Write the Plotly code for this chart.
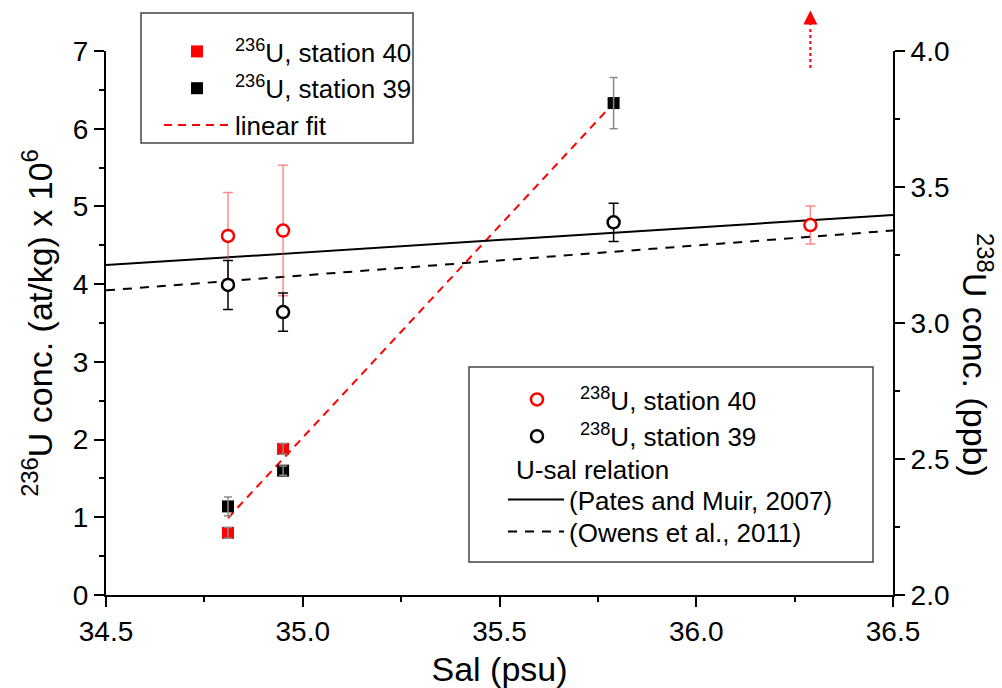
import plotly.graph_objects as go

FONT = "Arial, 'Liberation Sans', sans-serif"

# ---- 236U concentrations (left axis, at/kg x 10^6) ----
sal_u236_st40 = [34.81, 34.95]
u236_st40 = [0.80, 1.88]
u236_st40_err = [0.07, 0.07]

sal_u236_st39 = [34.81, 34.95, 35.79]
u236_st39 = [1.14, 1.60, 6.33]
u236_st39_err = [0.12, 0.06, 0.33]

# station 40 sample lying above the axis range: marked with an arrow
sal_offscale = 36.29
offscale_arrow_from = 6.78
offscale_arrow_head_base = 7.30
offscale_arrow_tip = 7.52

# linear fit of 236U vs salinity
fit_sal = [34.81, 35.79]
fit_u236 = [0.99, 6.33]

# ---- 238U concentrations (right axis, ppb) ----
sal_u238_st40 = [34.81, 34.95, 36.29]
u238_st40 = [3.32, 3.34, 3.36]
u238_st40_err = [0.16, 0.24, 0.07]

sal_u238_st39 = [34.81, 34.95, 35.79]
u238_st39 = [3.14, 3.04, 3.37]
u238_st39_err = [0.09, 0.07, 0.07]

# U-salinity relations
rel_sal = [34.5, 36.5]
pates_muir = [3.213, 3.397]
owens = [3.12, 3.34]

X_RANGE = [34.5, 36.5]
Y_RANGE = [0, 7]
Y2_RANGE = [2.0, 4.0]

W, H = 1002, 688
ML, MR, MT, MB = 106, 109, 51, 93
PW, PH = W - ML - MR, H - MT - MB


def px_x(p):
    return (p - ML) / PW


def px_y(p):
    return (H - MB - p) / PH


fig = go.Figure()

# 236U linear fit
fig.add_trace(go.Scatter(
    x=fit_sal, y=fit_u236, mode="lines", name="linear fit",
    line=dict(color="red", width=2, dash="8px,6px"),
    legend="legend", legendrank=3,
))

# 236U squares
fig.add_trace(go.Scatter(
    x=sal_u236_st40, y=u236_st40, mode="markers",
    name="<sup>236</sup>U, station 40",
    marker=dict(symbol="square", size=12, color="red", line=dict(width=0)),
    legend="legend", legendrank=1,
))
fig.add_trace(go.Scatter(
    x=sal_u236_st39, y=u236_st39, mode="markers",
    name="<sup>236</sup>U, station 39",
    marker=dict(symbol="square", size=12, color="black", line=dict(width=0)),
    legend="legend", legendrank=2,
))
# error bars drawn over the squares
for xs, ys, es in [(sal_u236_st40, u236_st40, u236_st40_err),
                   (sal_u236_st39, u236_st39, u236_st39_err)]:
    fig.add_trace(go.Scatter(
        x=xs, y=ys, mode="markers", showlegend=False, hoverinfo="skip",
        marker=dict(size=12, opacity=0),
        error_y=dict(type="data", array=es, visible=True,
                     color="#8a8a8a", thickness=1.5, width=4),
    ))

# U-salinity relations (right axis)
fig.add_trace(go.Scatter(
    x=rel_sal, y=pates_muir, yaxis="y2", mode="lines",
    name="(Pates and Muir, 2007)",
    line=dict(color="black", width=2),
    legend="legend3",
))
fig.add_trace(go.Scatter(
    x=rel_sal, y=owens, yaxis="y2", mode="lines",
    name="(Owens et al., 2011)",
    line=dict(color="black", width=2, dash="9px,8px"),
    legend="legend4",
))

# 238U circles
fig.add_trace(go.Scatter(
    x=sal_u238_st40, y=u238_st40, yaxis="y2", mode="markers",
    name="<sup>238</sup>U, station 40",
    marker=dict(symbol="circle", size=12, color="white",
                line=dict(color="red", width=2.5)),
    error_y=dict(type="data", array=u238_st40_err, visible=True,
                 color="rgba(255,60,60,0.6)", thickness=1.5, width=5),
    legend="legend2", legendrank=1,
))
fig.add_trace(go.Scatter(
    x=sal_u238_st39, y=u238_st39, yaxis="y2", mode="markers",
    name="<sup>238</sup>U, station 39",
    marker=dict(symbol="circle", size=12, color="white",
                line=dict(color="black", width=2.5)),
    error_y=dict(type="data", array=u238_st39_err, visible=True,
                 color="black", thickness=1.5, width=5),
    legend="legend2", legendrank=2,
))

axis_common = dict(
    showline=True, linecolor="black", linewidth=2,
    ticks="outside", ticklen=10, tickwidth=2, tickcolor="black",
    showgrid=False, zeroline=False,
    tickfont=dict(size=28, family=FONT, color="black"),
)

span = Y_RANGE[1] - Y_RANGE[0]
legend_common = dict(
    xanchor="left", yanchor="top", bgcolor="rgba(0,0,0,0)", borderwidth=0,
    font=dict(size=26, family=FONT, color="black"), tracegroupgap=0,
)

fig.update_layout(
    width=W, height=H,
    margin=dict(l=ML, r=MR, t=MT, b=MB, autoexpand=False),
    paper_bgcolor="white", plot_bgcolor="white",
    font=dict(family=FONT, size=26, color="black"),
    xaxis=dict(
        range=X_RANGE, tick0=34.5, dtick=0.5, tickformat=".1f",
        minor=dict(dtick=0.25, ticks="outside", ticklen=5, tickwidth=2, tickcolor="black"),
        title=dict(text="Sal (psu)", font=dict(size=34, family=FONT), standoff=12),
        **axis_common,
    ),
    yaxis=dict(
        range=Y_RANGE, tick0=0, dtick=1,
        minor=dict(dtick=0.5, ticks="outside", ticklen=5, tickwidth=2, tickcolor="black"),
        title=dict(text="<sup>236</sup>U conc. (at/kg) x 10<sup>6</sup>",
                   font=dict(size=34, family=FONT), standoff=10),
        **axis_common,
    ),
    yaxis2=dict(
        range=Y2_RANGE, overlaying="y", side="right", tick0=2.0, dtick=0.5,
        tickformat=".1f",
        minor=dict(dtick=0.25, ticks="outside", ticklen=5, tickwidth=2, tickcolor="black"),
        **axis_common,
    ),
    legend=dict(x=px_x(159), y=px_y(28), itemwidth=66, **legend_common),
    legend2=dict(x=px_x(494), y=px_y(376), itemwidth=76, **legend_common),
    legend3=dict(x=px_x(503), y=px_y(476), itemwidth=56, **legend_common),
    legend4=dict(x=px_x(503), y=px_y(508), itemwidth=56, **legend_common),
    showlegend=True,
)

# legend frames
fig.add_shape(type="rect", xref="paper", yref="paper",
              x0=px_x(141), x1=px_x(413), y0=px_y(143), y1=px_y(13),
              line=dict(color="#444444", width=1.5), fillcolor="rgba(0,0,0,0)")
fig.add_shape(type="rect", xref="paper", yref="paper",
              x0=px_x(469), x1=px_x(873), y0=px_y(562), y1=px_y(367),
              line=dict(color="#444444", width=1.5), fillcolor="rgba(0,0,0,0)")

# heading of the U-salinity relation entries
fig.add_annotation(x=px_x(514), y=px_y(470), xref="paper", yref="paper",
                   text="U-sal relation", showarrow=False,
                   font=dict(size=26, family=FONT, color="black"),
                   xanchor="left", yanchor="middle")

# off-scale arrow for the 236U station 40 sample
fig.add_shape(type="line", xref="x", yref="paper",
              x0=sal_offscale, x1=sal_offscale,
              y0=offscale_arrow_from / span, y1=offscale_arrow_head_base / span,
              line=dict(color="red", width=2, dash="dot"))
fig.add_annotation(x=sal_offscale, xref="x", y=offscale_arrow_tip / span, yref="paper",
                   ax=0, ay=16, text="", showarrow=True,
                   arrowhead=2, arrowsize=1.4, arrowwidth=2, arrowcolor="red")

# right axis title, reading top to bottom
fig.add_annotation(x=px_x(978), y=px_y(355), xref="paper", yref="paper",
                   text="<sup>238</sup>U conc. (ppb)", textangle=90, showarrow=False,
                   font=dict(size=34, family=FONT, color="black"),
                   xanchor="center", yanchor="middle")

fig.write_html("out.html")
